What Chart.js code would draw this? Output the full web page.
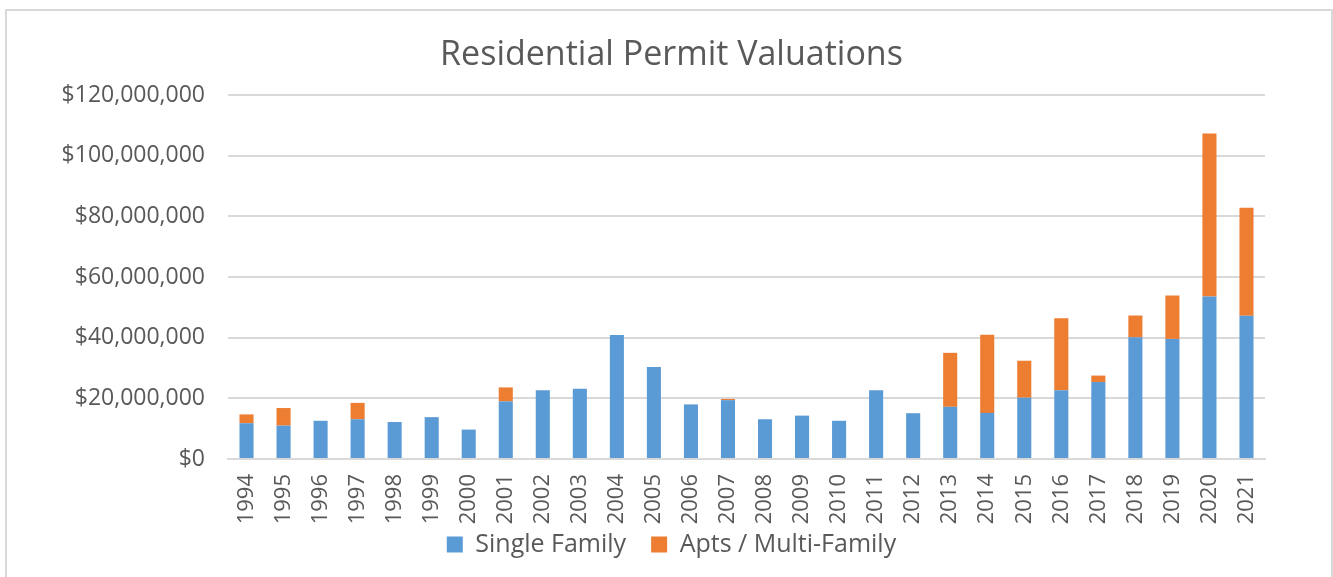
<!DOCTYPE html>
<html>
<head>
<meta charset="utf-8">
<script src="https://cdn.jsdelivr.net/npm/chart.js@4.4.1/dist/chart.umd.min.js"></script>
<style>
  html, body { margin: 0; padding: 0; background: #fff; overflow: hidden; }
  #wrap { position: relative; width: 1333px; height: 577px; overflow: hidden; }
  #frame { position: absolute; left: 5px; top: 9px; width: 1328px; height: 600px; border: 2px solid #d9d9d9; box-sizing: border-box; }
  #chart { position: absolute; left: 0; top: 0; }
</style>
</head>
<body>
<div id="wrap">
  <div id="frame"></div>
  <canvas id="chart" width="1333" height="577"></canvas>
</div>
<script>
// Años
var years = ['1994', '1995', '1996', '1997', '1998', '1999', '2000', '2001', '2002', '2003',
             '2004', '2005', '2006', '2007', '2008', '2009', '2010', '2011', '2012', '2013',
             '2014', '2015', '2016', '2017', '2018', '2019', '2020', '2021'];

// Valores en millones de dólares
var singleFamily = [11.8, 11.0, 12.6, 13.1, 12.2, 13.8, 9.7, 19.0, 22.7, 23.2,
                    40.9, 30.3, 18.0, 19.4, 13.1, 14.3, 12.6, 22.7, 15.1, 17.2,
                    15.2, 20.2, 22.7, 25.4, 40.1, 39.6, 53.6, 47.2];
var multiFamily = [2.9, 5.8, 0, 5.4, 0, 0, 0, 4.6, 0, 0,
                   0, 0, 0, 0.4, 0, 0, 0, 0, 0, 17.8,
                   25.8, 12.2, 23.7, 2.1, 7.2, 14.3, 53.7, 35.6];

var seriesNames = ['Single Family', 'Apts / Multi-Family'];
var seriesColors = ['#5b9bd5', '#ed7d31'];

var textColor = '#595959';
var gridColor = '#d9d9d9';
var fontFamily = '"Open Sans", "Noto Sans", sans-serif';

function toDollars(list) {
    return list.map(function(v) { return Math.round(v * 1000000); });
}

// Las etiquetas se salen de la caja del eje, así que quitamos el recorte
function noLabelClip(scale) {
    scale._computeLabelArea = function() { return null; };
}

var ctx = document.getElementById('chart').getContext('2d');
var permitChart = new Chart(ctx, {
    type: 'bar',
    data: {
        labels: years,
        datasets: [{
            label: seriesNames[0],
            data: toDollars(singleFamily),
            backgroundColor: seriesColors[0],
            borderWidth: 0
        }, {
            label: seriesNames[1],
            data: toDollars(multiFamily),
            backgroundColor: seriesColors[1],
            borderWidth: 0
        }]
    },
    options: {
        responsive: false,
        animation: false,
        datasets: {
            bar: { categoryPercentage: 1, barPercentage: 0.38 }
        },
        layout: {
            // izquierda/derecha ajustadas para centrar título y leyenda como en Excel
            padding: { top: 20, right: 68, bottom: 10, left: 78 }
        },
        plugins: {
            title: {
                display: true,
                text: 'Residential Permit Valuations',
                color: textColor,
                font: { family: fontFamily, size: 34, weight: 'normal' },
                padding: { top: 14.6, bottom: 19.6 }
            },
            legend: {
                position: 'bottom',
                labels: {
                    color: textColor,
                    font: { family: fontFamily, size: 25 },
                    boxWidth: 16,
                    boxHeight: 16,
                    padding: 25
                }
            },
            tooltip: { enabled: false }
        },
        scales: {
            x: {
                stacked: true,
                grid: { display: false },
                border: { display: true, color: gridColor, width: 2 },
                ticks: {
                    color: textColor,
                    font: { family: fontFamily, size: 22 },
                    minRotation: 90,
                    maxRotation: 90,
                    autoSkip: false,
                    padding: 7
                },
                afterFit: function(scale) {
                    scale.height = 48;
                    noLabelClip(scale);
                }
            },
            y: {
                stacked: true,
                min: 0,
                max: 120000000,
                grid: { color: gridColor, lineWidth: 2, drawTicks: false },
                border: { display: false },
                ticks: {
                    stepSize: 20000000,
                    color: textColor,
                    font: { family: fontFamily, size: 23 },
                    padding: 23,
                    callback: function(value) {
                        return '$' + value.toLocaleString('en-US');
                    }
                },
                afterFit: function(scale) {
                    scale.width = 150;
                    noLabelClip(scale);
                }
            }
        }
    }
});
</script>
</body>
</html>
